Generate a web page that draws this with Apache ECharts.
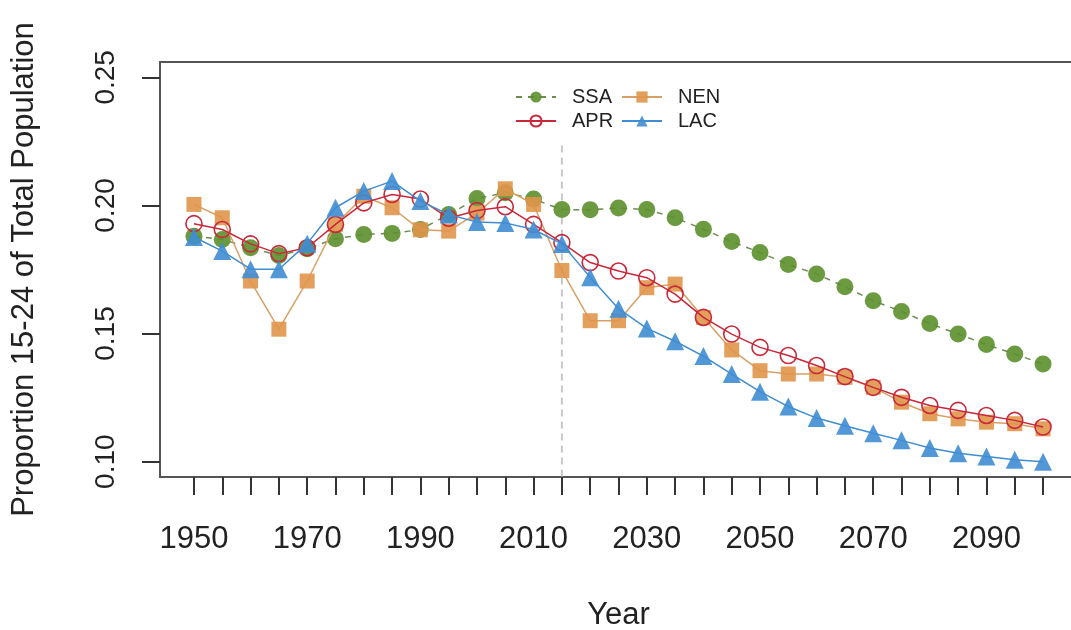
<!DOCTYPE html>
<html>
<head>
<meta charset="utf-8">
<title>Proportion 15-24 of Total Population</title>
<script src="https://cdn.jsdelivr.net/npm/echarts@6/dist/echarts.min.js"></script>
<style>
  html, body { margin: 0; padding: 0; background: #fff; }
  #main { width: 1071px; height: 630px; }
</style>
</head>
<body>
<div id="main"></div>
<script>
// years on the x axis
const years = [1950, 1955, 1960, 1965, 1970, 1975, 1980, 1985, 1990, 1995, 2000,
  2005, 2010, 2015, 2020, 2025, 2030, 2035, 2040, 2045, 2050,
  2055, 2060, 2065, 2070, 2075, 2080, 2085, 2090, 2095, 2100];

// proportion aged 15-24, by region
const ssa = [0.1880, 0.1867, 0.1835, 0.1805, 0.1831, 0.1870, 0.1887, 0.1891, 0.1906, 0.1965, 0.2027,
  0.2050, 0.2025, 0.1984, 0.1983, 0.1990, 0.1984, 0.1952, 0.1907, 0.1859, 0.1816,
  0.1770, 0.1732, 0.1683, 0.1628, 0.1586, 0.1539, 0.1498, 0.1457, 0.1420, 0.1381];
const apr = [0.1929, 0.1906, 0.1850, 0.1812, 0.1835, 0.1926, 0.2010, 0.2043, 0.2025, 0.1950, 0.1980,
  0.1995, 0.1926, 0.1855, 0.1777, 0.1744, 0.1718, 0.1654, 0.1563, 0.1498, 0.1446,
  0.1414, 0.1375, 0.1332, 0.1290, 0.1251, 0.1219, 0.1200, 0.1180, 0.1161, 0.1135];
const nen = [0.2004, 0.1952, 0.1705, 0.1517, 0.1705, 0.1926, 0.2036, 0.1991, 0.1905, 0.1900, 0.1970,
  0.2065, 0.2004, 0.1746, 0.1550, 0.1550, 0.1679, 0.1693, 0.1563, 0.1436, 0.1355,
  0.1342, 0.1342, 0.1329, 0.1290, 0.1232, 0.1187, 0.1167, 0.1154, 0.1148, 0.1128];
const lac = [0.1877, 0.1822, 0.1751, 0.1751, 0.1851, 0.1991, 0.2056, 0.2095, 0.2017, 0.1965, 0.1935,
  0.1932, 0.1906, 0.1850, 0.1720, 0.1597, 0.1520, 0.1470, 0.1412, 0.1342, 0.1273,
  0.1215, 0.1170, 0.1140, 0.1111, 0.1083, 0.1053, 0.1033, 0.1020, 0.1007, 0.1000];

// axis ticks and labels
const xTicks = years;
const xLabels = [1950, 1970, 1990, 2010, 2030, 2050, 2070, 2090];
const yTicks = [0.10, 0.15, 0.20, 0.25];

// dashed marker for the projection start
const projYear = 2015;
const projLine = [[projYear, 0.2234], [projYear, 0.094]];

const FONT = '"Liberation Sans", Arial, Helvetica, sans-serif';
const C_SSA = '#5b8f2c';
const C_APR = '#c8283a';
const C_NEN = '#e0954a';
const C_LAC = '#3f8dd3';

const pairs = vals => years.map((y, i) => [y, vals[i]]);

const chart = echarts.init(document.getElementById('main'), null, { renderer: 'canvas' });

const legendText = { fontFamily: FONT, fontSize: 20, color: '#222', lineHeight: 19, padding: [0, 0, 0, 11] };

const option = {
  backgroundColor: '#fff',
  animation: false,
  textStyle: { fontFamily: FONT },
  grid: {
    left: 160, top: 62, width: 917, height: 415,
    outerBoundsMode: 'none',
    show: true, borderColor: '#555', borderWidth: 2, backgroundColor: 'transparent'
  },
  legend: [
    {
      data: ['SSA', 'APR'],
      orient: 'vertical',
      left: 510, top: 82,
      itemWidth: 40, itemHeight: 14, itemGap: 4,
      textStyle: legendText
    },
    {
      data: ['NEN', 'LAC'],
      orient: 'vertical',
      left: 616, top: 82,
      itemWidth: 40, itemHeight: 14, itemGap: 4,
      textStyle: legendText
    }
  ],
  xAxis: {
    type: 'value',
    min: 1944, max: 2106,
    name: 'Year',
    nameLocation: 'middle',
    nameGap: 123,
    nameTextStyle: { fontFamily: FONT, fontSize: 31, color: '#222' },
    axisLine: { show: false },
    axisTick: { show: true, customValues: xTicks, length: 18, lineStyle: { color: '#333', width: 2 } },
    axisLabel: {
      customValues: xLabels, margin: 47,
      fontFamily: FONT, fontSize: 31, color: '#222',
      formatter: v => String(v)
    },
    splitLine: { show: false }
  },
  yAxis: {
    type: 'value',
    min: 0.094, max: 0.256,
    name: 'Proportion 15-24 of Total Population',
    nameLocation: 'middle',
    nameRotate: 90,
    nameGap: 120,
    nameTextStyle: { fontFamily: FONT, fontSize: 31, color: '#222' },
    axisLine: { show: false },
    axisTick: { show: true, customValues: yTicks, length: 18, lineStyle: { color: '#333', width: 2 } },
    axisLabel: {
      customValues: yTicks, margin: 40, rotate: 90,
      fontFamily: FONT, fontSize: 28, color: '#222',
      formatter: v => v.toFixed(2)
    },
    splitLine: { show: false }
  },
  series: [
    {
      name: 'proj',
      type: 'line',
      data: projLine,
      symbol: 'none',
      silent: true,
      lineStyle: { color: '#c8c8c8', width: 2, type: [7, 5] },
      z: 1
    },
    {
      name: 'SSA',
      type: 'line',
      data: pairs(ssa),
      symbol: 'circle', symbolSize: 17,
      itemStyle: { color: C_SSA, opacity: 0.9 },
      lineStyle: { color: '#6f8a52', width: 1.5, type: [6, 6] },
      z: 2
    },
    {
      name: 'NEN',
      type: 'line',
      data: pairs(nen),
      symbol: 'rect', symbolSize: 15,
      itemStyle: { color: C_NEN, opacity: 0.9 },
      lineStyle: { color: '#d9a066', width: 1.5 },
      z: 3
    },
    {
      name: 'APR',
      type: 'line',
      data: pairs(apr),
      symbol: 'circle', symbolSize: 16,
      itemStyle: { color: 'rgba(255,255,255,0)', borderColor: C_APR, borderWidth: 1.6 },
      lineStyle: { color: C_APR, width: 1.5 },
      z: 4
    },
    {
      name: 'LAC',
      type: 'line',
      data: pairs(lac),
      symbol: 'triangle', symbolSize: 18,
      itemStyle: { color: C_LAC, opacity: 0.9 },
      lineStyle: { color: C_LAC, width: 1.5 },
      z: 5
    }
  ]
};

chart.setOption(option);
</script>
</body>
</html>
